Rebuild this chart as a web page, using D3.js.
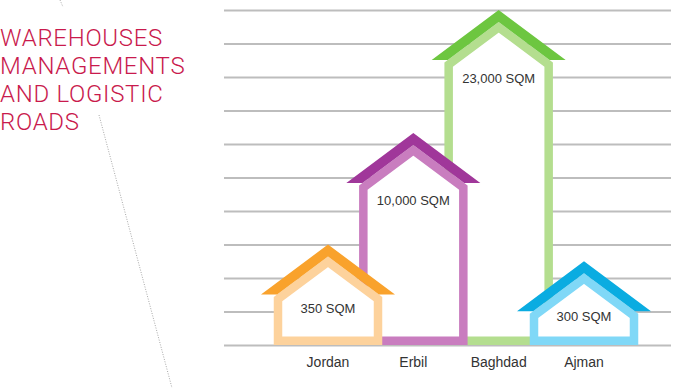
<!DOCTYPE html>
<html>
<head>
<meta charset="utf-8">
<script src="https://cdn.jsdelivr.net/npm/d3@7"></script>
<style>
  html, body { margin: 0; padding: 0; background: #fff; }
  svg { display: block; }
</style>
</head>
<body>
<svg id="chart" width="682" height="390"></svg>
<script>
// data
const categories = ['Jordan', 'Erbil', 'Baghdad', 'Ajman'];
const areaLabels = ['350 SQM', '10,000 SQM', '23,000 SQM', '300 SQM'];
// house peak height, in grid steps (chart has 10 grid steps)
const houseHeights = [3, 6.33, 10, 2.5];
const wallColors = ['#fdd29c', '#c97dbf', '#b4de8f', '#80d8f7'];
const roofColors = ['#f9a22c', '#a0379a', '#6dc640', '#0aace1'];
// back-to-front order, taller houses sit behind
const drawOrder = ['Baghdad', 'Erbil', 'Jordan', 'Ajman'];
const titleLines = ['WAREHOUSES', 'MANAGEMENTS', 'AND LOGISTIC', 'ROADS'];

const svg = d3.select('#chart');

// scales
const x = d3.scalePoint().domain(categories).range([328, 584]);
const y = d3.scaleLinear().domain([0, 10]).range([345, 10]);

// grid
const grid = svg.append('g')
    .attr('transform', 'translate(224,0)')
    .call(d3.axisLeft(y).ticks(10).tickSize(-447).tickFormat(''));
grid.select('.domain').remove();
grid.selectAll('.tick line')
    .attr('stroke', '#bdbdbd')
    .attr('stroke-width', 2);

// dotted guide lines
svg.append('g').selectAll('line')
    .data([[60, 0, 63, 7], [99, 115, 172, 388]])
    .enter().append('line')
    .attr('x1', d => d[0]).attr('y1', d => d[1])
    .attr('x2', d => d[2]).attr('y2', d => d[3])
    .attr('stroke', '#a8a8a8')
    .attr('stroke-width', 1)
    .attr('stroke-dasharray', '1,1.5');

// title
svg.append('text')
    .attr('font-family', 'Roboto, sans-serif')
    .attr('font-weight', 300)
    .attr('font-size', 24)
    .attr('letter-spacing', 0.7)
    .attr('fill', '#c91a4d')
    .selectAll('tspan')
    .data(titleLines)
    .enter().append('tspan')
    .attr('x', 0)
    .attr('y', (d, i) => 46 + i * 28)
    .text(d => d);

// houses
const wallW = 8.5;
const halfWall = 50;
const roofRise = 50;
const roofHalf = 67;
const roofBand = 12;
const slope = roofRise / roofHalf;
const base = y(0);

const houses = drawOrder.map(name => {
    const i = categories.indexOf(name);
    return { name, i, cx: x(name), peak: y(houseHeights[i]) };
});

const houseG = svg.append('g').selectAll('g')
    .data(houses)
    .enter().append('g');

houseG.append('path')
    .attr('d', d => {
        const apex = d.peak + roofBand + (wallW / 2) * Math.sqrt(1 + slope * slope);
        const eave = apex + halfWall * slope;
        return `M${d.cx - halfWall},${base - wallW / 2}L${d.cx - halfWall},${eave}` +
            `L${d.cx},${apex}L${d.cx + halfWall},${eave}L${d.cx + halfWall},${base - wallW / 2}Z`;
    })
    .attr('fill', '#fff')
    .attr('stroke', d => wallColors[d.i])
    .attr('stroke-width', wallW)
    .attr('stroke-linejoin', 'miter');

houseG.append('path')
    .attr('d', d => {
        const inset = roofBand / slope;
        const eave = d.peak + roofRise;
        return `M${d.cx - roofHalf},${eave}L${d.cx},${d.peak}L${d.cx + roofHalf},${eave}` +
            `L${d.cx + roofHalf - inset},${eave}L${d.cx},${d.peak + roofBand}` +
            `L${d.cx - roofHalf + inset},${eave}Z`;
    })
    .attr('fill', d => roofColors[d.i]);

houseG.append('text')
    .attr('x', d => d.cx)
    .attr('y', d => Math.min(d.peak + 68, (d.peak + 25 + 337) / 2 + 5) + 4.5)
    .attr('text-anchor', 'middle')
    .attr('font-family', '"Liberation Sans", Arial, sans-serif')
    .attr('font-size', 13)
    .attr('fill', '#333')
    .text(d => areaLabels[d.i]);

// category labels
svg.append('g').selectAll('text')
    .data(categories)
    .enter().append('text')
    .attr('x', d => x(d))
    .attr('y', 367)
    .attr('text-anchor', 'middle')
    .attr('font-family', '"Liberation Sans", Arial, sans-serif')
    .attr('font-size', 14)
    .attr('fill', '#333')
    .text(d => d);
</script>
</body>
</html>
